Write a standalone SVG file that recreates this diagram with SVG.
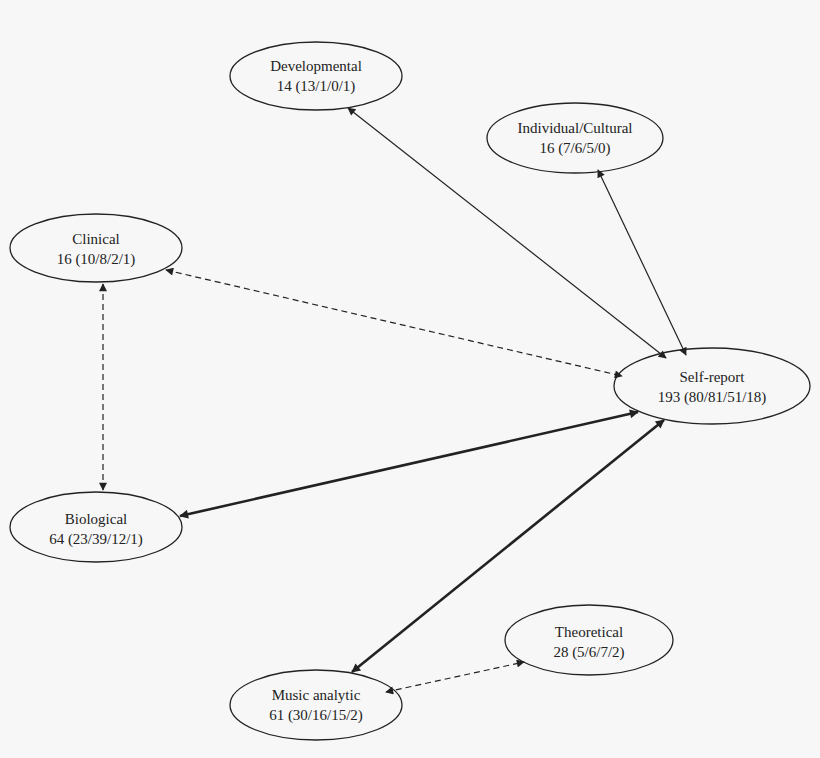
<svg xmlns="http://www.w3.org/2000/svg" width="820" height="758" viewBox="0 0 820 758">
<style>
ellipse{fill:#f7f7f7;stroke:#222;stroke-width:1.3}
text{font-family:"Liberation Serif",serif;font-size:15px;fill:#222;text-anchor:middle}
.c{stroke:#222;fill:none;stroke-width:1.2}
.d{stroke-dasharray:6,4}
.t{stroke-width:2.6}
</style>
<defs>
<marker id="a" viewBox="0 0 10 10" refX="9" refY="5" markerWidth="10" markerHeight="8" markerUnits="userSpaceOnUse" orient="auto-start-reverse"><path d="M0,0L10,5L0,10z" fill="#222"/></marker>
<marker id="b" viewBox="0 0 10 10" refX="9" refY="5" markerWidth="12" markerHeight="9" markerUnits="userSpaceOnUse" orient="auto-start-reverse"><path d="M0,0L10,5L0,10z" fill="#222"/></marker>
</defs>
<rect width="820" height="758" fill="#f7f7f7"/>
<g id="developmental"><ellipse cx="316" cy="76" rx="86" ry="34"/><text x="316" y="71">Developmental</text><text x="316" y="91">14 (13/1/0/1)</text></g>
<g id="individual"><ellipse cx="575" cy="138" rx="88" ry="35"/><text x="575" y="133">Individual/Cultural</text><text x="575" y="153">16 (7/6/5/0)</text></g>
<g id="clinical"><ellipse cx="96" cy="248" rx="86" ry="34"/><text x="96" y="244">Clinical</text><text x="96" y="264">16 (10/8/2/1)</text></g>
<g id="selfreport"><ellipse cx="712" cy="386" rx="98" ry="38"/><text x="712" y="382">Self-report</text><text x="712" y="402">193 (80/81/51/18)</text></g>
<g id="biological"><ellipse cx="96" cy="527" rx="86" ry="35"/><text x="96" y="524">Biological</text><text x="96" y="544">64 (23/39/12/1)</text></g>
<g id="theoretical"><ellipse cx="589" cy="640" rx="84" ry="35"/><text x="589" y="637">Theoretical</text><text x="589" y="657">28 (5/6/7/2)</text></g>
<g id="music"><ellipse cx="316" cy="705" rx="86" ry="35"/><text x="316" y="700">Music analytic</text><text x="316" y="720">61 (30/16/15/2)</text></g>
<g id="connectors">
<line class="c" x1="348" y1="108" x2="666" y2="358" marker-start="url(#a)" marker-end="url(#a)"/>
<line class="c" x1="598" y1="170" x2="686" y2="355" marker-start="url(#a)" marker-end="url(#a)"/>
<line class="c d" x1="166" y1="270" x2="622" y2="376" marker-start="url(#a)" marker-end="url(#a)"/>
<line class="c d" x1="103" y1="284" x2="103" y2="490" marker-start="url(#a)" marker-end="url(#a)"/>
<line class="c t" x1="180" y1="516" x2="638" y2="412" marker-start="url(#b)" marker-end="url(#b)"/>
<line class="c t" x1="352" y1="672" x2="664" y2="420" marker-start="url(#b)" marker-end="url(#b)"/>
<line class="c d" x1="386" y1="692" x2="524" y2="662" marker-start="url(#a)" marker-end="url(#a)"/>
</g>
</svg>
